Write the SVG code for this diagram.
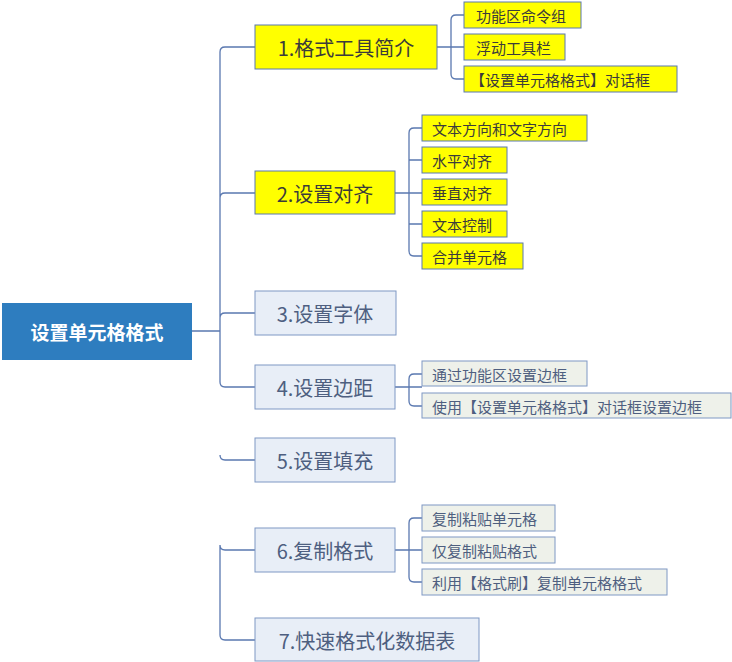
<svg xmlns="http://www.w3.org/2000/svg" width="732" height="662" viewBox="0 0 732 662">
<style>
text{font-family:"Microsoft YaHei","Noto Sans CJK SC",sans-serif;dominant-baseline:central}
.y{fill:#FFFF00;stroke:#5a78b0;stroke-width:1}
.b{fill:#E8EEF7;stroke:#7f98c4;stroke-width:1}
.g{fill:#EEF1EA;stroke:#7f98c4;stroke-width:1}
.t1{font-size:20px;fill:#3b3b3b}
.t1b{font-size:20px;fill:#4e5f80}
.t2{font-size:15px;fill:#3b3b3b}
.t2b{font-size:15px;fill:#4e5f80}
.c{fill:none;stroke:#5a78b0;stroke-width:1.3}
</style>
<g id="connectors">
<path class="c" d="M192 331H220M220 331V52Q220 47 225 47H255M220 198Q220 193 225 193H255M220 318Q220 313 225 313H255M220 331V382Q220 387 225 387H255M220 455Q220 460 225 460H255M220 545Q220 550 225 550H255M220 545V635Q220 640 225 640H255"/>
<path class="c" d="M437 47H464M451 47V20Q451 15 456 15H464M451 47V74Q451 79 456 79H464"/>
<path class="c" d="M395 193H422M409 193V133Q409 128 414 128H422M409 160H422M409 193V251Q409 256 414 256H422M409 224Q409 224 414 224H422"/>
<path class="c" d="M395 387H422M409 387V379Q409 374 414 374H422M409 387V401Q409 406 414 406H422"/>
<path class="c" d="M395 550H422M409 550V523Q409 518 414 518H422M409 550V577Q409 582 414 582H422"/>
</g>
<g id="root"><rect x="2" y="303" width="190" height="57" fill="#2E7DBF"/><text x="97" y="331.5" text-anchor="middle" font-size="19" font-weight="bold" fill="#fff">设置单元格格式</text></g>
<g id="n1"><rect class="y" x="255" y="25" width="182" height="44"/><text class="t1" x="346" y="47" text-anchor="middle">1.格式工具简介</text></g>
<g id="n1a"><rect class="y" x="464" y="2" width="117" height="26"/><text class="t2" x="476" y="15">功能区命令组</text></g>
<g id="n1b"><rect class="y" x="464" y="34" width="101" height="26"/><text class="t2" x="476" y="47">浮动工具栏</text></g>
<g id="n1c"><rect class="y" x="464" y="66" width="213" height="26"/><text class="t2" x="470" y="79">【设置单元格格式】对话框</text></g>
<g id="n2"><rect class="y" x="255" y="171" width="140" height="43"/><text class="t1" x="325" y="193" text-anchor="middle">2.设置对齐</text></g>
<g id="n2a"><rect class="y" x="422" y="115" width="165" height="26"/><text class="t2" x="432" y="128">文本方向和文字方向</text></g>
<g id="n2b"><rect class="y" x="422" y="147" width="85" height="26"/><text class="t2" x="432" y="160">水平对齐</text></g>
<g id="n2c"><rect class="y" x="422" y="179" width="85" height="26"/><text class="t2" x="432" y="192">垂直对齐</text></g>
<g id="n2d"><rect class="y" x="422" y="211" width="85" height="26"/><text class="t2" x="432" y="224">文本控制</text></g>
<g id="n2e"><rect class="y" x="422" y="243" width="101" height="26"/><text class="t2" x="432" y="256">合并单元格</text></g>
<g id="n3"><rect class="b" x="255" y="291" width="141" height="44"/><text class="t1b" x="325" y="313" text-anchor="middle">3.设置字体</text></g>
<g id="n4"><rect class="b" x="255" y="365" width="140" height="44"/><text class="t1b" x="325" y="387" text-anchor="middle">4.设置边距</text></g>
<g id="n4a"><rect class="g" x="422" y="361" width="165" height="25"/><text class="t2b" x="432" y="374">通过功能区设置边框</text></g>
<g id="n4b"><rect class="g" x="422" y="393" width="309" height="25"/><text class="t2b" x="432" y="406">使用【设置单元格格式】对话框设置边框</text></g>
<g id="n5"><rect class="b" x="255" y="438" width="140" height="44"/><text class="t1b" x="325" y="460" text-anchor="middle">5.设置填充</text></g>
<g id="n6"><rect class="b" x="255" y="528" width="140" height="44"/><text class="t1b" x="325" y="550" text-anchor="middle">6.复制格式</text></g>
<g id="n6a"><rect class="g" x="422" y="505" width="133" height="26"/><text class="t2b" x="432" y="518">复制粘贴单元格</text></g>
<g id="n6b"><rect class="g" x="422" y="537" width="133" height="26"/><text class="t2b" x="432" y="550">仅复制粘贴格式</text></g>
<g id="n6c"><rect class="g" x="422" y="569" width="245" height="26"/><text class="t2b" x="432" y="582">利用【格式刷】复制单元格格式</text></g>
<g id="n7"><rect class="b" x="255" y="618" width="224" height="43"/><text class="t1b" x="367" y="640" text-anchor="middle">7.快速格式化数据表</text></g>
</svg>
